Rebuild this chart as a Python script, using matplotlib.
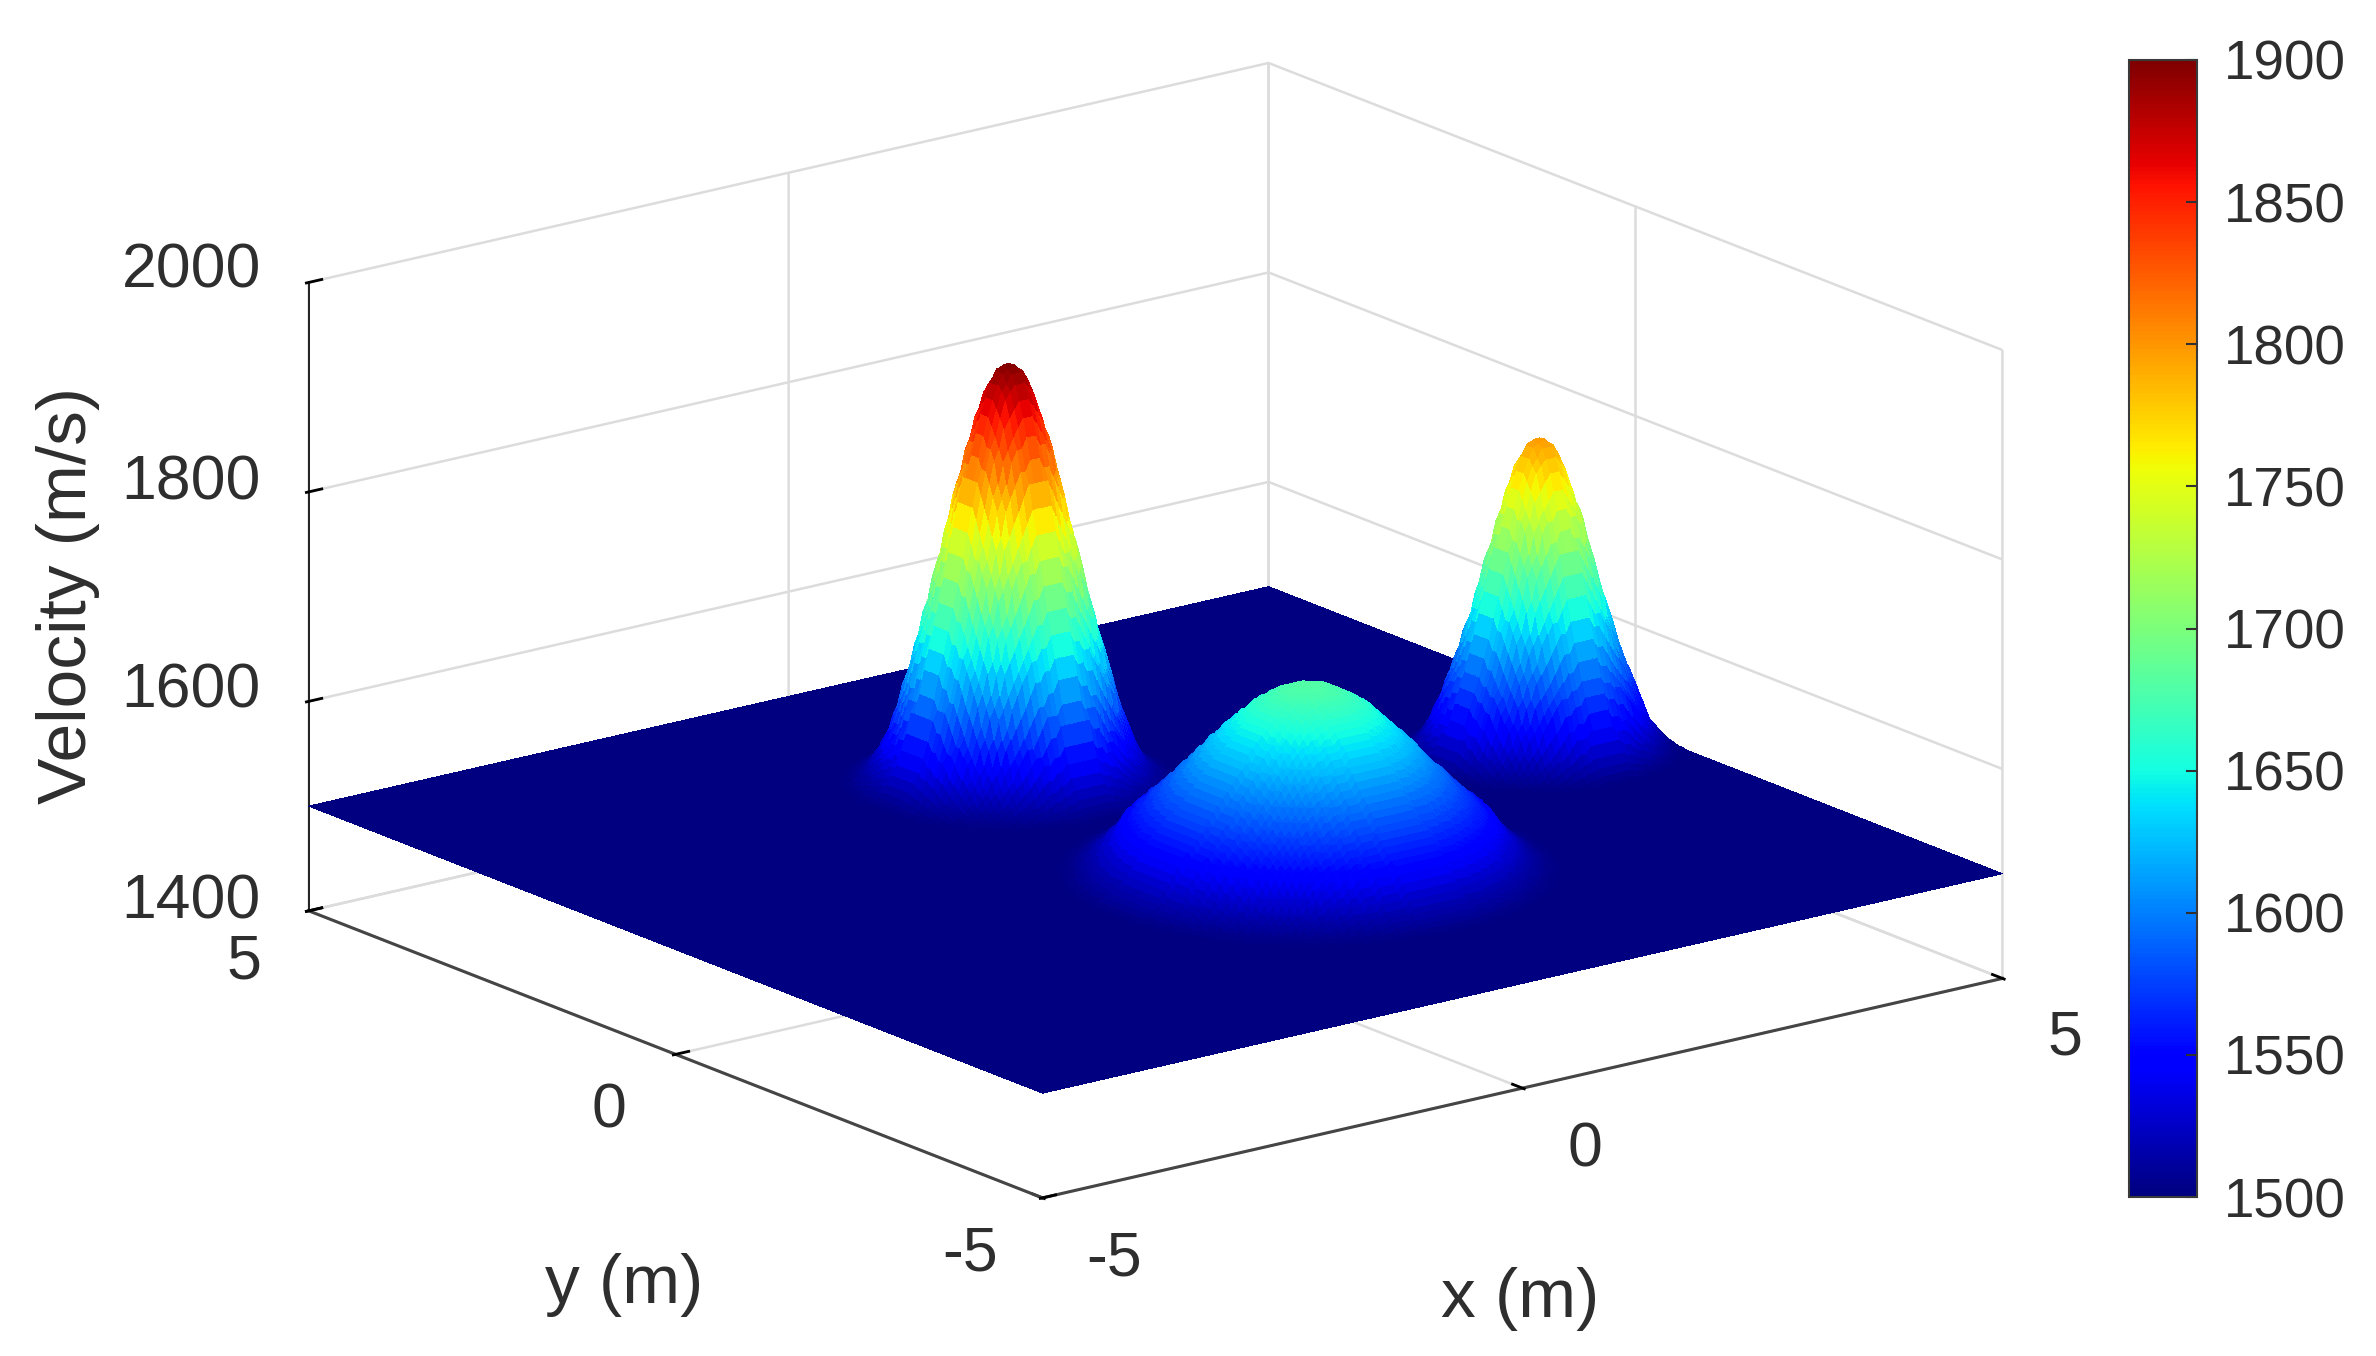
import numpy as np
import matplotlib
matplotlib.use('Agg')
import matplotlib.pyplot as plt
from matplotlib.cm import ScalarMappable
from matplotlib.colors import Normalize

plt.rcParams['font.family'] = ['Liberation Sans', 'DejaVu Sans']

# surface grid, m
step = 0.05
grid_x = np.arange(-100, 101) * step
grid_y = np.arange(-100, 101) * step
background_velocity = 1500

# velocity against distance from each summit
# hills a and b have one value every 0.025 m, hill c one every 0.05 m
hill_a_centre = (0.0, 2.0)
hill_a = [1900, 1899, 1898, 1896, 1893, 1889, 1884, 1878, 1871, 1864,
          1856, 1848, 1839, 1829, 1819, 1809, 1798, 1787, 1775, 1764,
          1752, 1741, 1729, 1718, 1706, 1695, 1683, 1672, 1662, 1651,
          1641, 1631, 1622, 1611, 1600, 1591, 1582, 1572, 1563, 1555,
          1548, 1541, 1535, 1530, 1525, 1521, 1517, 1514, 1511, 1509,
          1507, 1505, 1504, 1503, 1502, 1501, 1501]
hill_b_centre = (4.0, 0.0)
hill_b = [1800, 1799, 1798, 1796, 1793, 1789, 1784, 1778, 1772, 1765,
          1757, 1749, 1740, 1731, 1722, 1712, 1702, 1692, 1682, 1672,
          1662, 1652, 1642, 1632, 1623, 1614, 1606, 1597, 1589, 1582,
          1575, 1568, 1561, 1553, 1546, 1539, 1533, 1527, 1522, 1518,
          1514, 1511, 1508, 1506, 1504, 1503, 1502, 1501, 1501]
hill_c_centre = (0.45, -1.5)
hill_c = [1680, 1680, 1679, 1678, 1676, 1674, 1671, 1668, 1665, 1661,
          1657, 1652, 1647, 1642, 1637, 1632, 1626, 1621, 1615, 1609,
          1603, 1598, 1592, 1587, 1581, 1576, 1571, 1566, 1561, 1556,
          1552, 1545, 1538, 1531, 1525, 1519, 1515, 1511, 1508, 1505,
          1503, 1502, 1501, 1501]

x_ticks = [-5, 0, 5]
y_ticks = [-5, 0, 5]
z_ticks = [1400, 1600, 1800, 2000]
cbar_ticks = [1500, 1550, 1600, 1650, 1700, 1750, 1800, 1850, 1900]

W, H = 2376, 1356
TEXT = '#2e2e2e'
GRID = '#dcdcdc'
AXIS = '#454545'

# where the tick labels sit, pixels from the top left
x_label_pos = [(1114, 1259), (1585, 1150), (2065, 1038)]
y_label_pos = [(970, 1254), (609, 1111), (244, 962)]
z_label_pos = [(261, 902), (261, 691), (261, 483), (261, 271)]


def fig_text(px, py, s, **kw):
    fig.text(px / W, 1 - py / H, s, color=TEXT, **kw)


def add_hill(Z, X, Y, profile, centre, dr):
    # every grid point takes the profile value nearest to its distance from the summit
    values = np.array(profile, dtype=float)
    dist = np.hypot(X - centre[0], Y - centre[1])
    idx = np.round(dist / dr).astype(int)
    inside = idx < len(values)
    Z[inside] = np.maximum(Z[inside], values[idx[inside]])


X, Y = np.meshgrid(grid_x, grid_y)
Z = np.full(X.shape, float(background_velocity))
add_hill(Z, X, Y, hill_a, hill_a_centre, 0.025)
add_hill(Z, X, Y, hill_b, hill_b_centre, 0.025)
add_hill(Z, X, Y, hill_c, hill_c_centre, 0.05)

fig = plt.figure(figsize=(W / 100, H / 100), dpi=100)
ax = fig.add_axes([488 / W, 58 / H, 1300 / W, 1300 / H], projection='3d', proj_type='ortho')
ax.view_init(elev=17.4, azim=-127.4)
ax.set_box_aspect((1, 1, 0.545), zoom=1.3675)

norm = Normalize(1500, 1900)
cmap = plt.get_cmap('jet')
cell = (Z[:-1, :-1] + Z[1:, :-1] + Z[:-1, 1:] + Z[1:, 1:]) / 4
surf = ax.plot_surface(X, Y, Z, rstride=1, cstride=1, facecolors=cmap(norm(cell)),
                       shade=False, linewidth=0, antialiased=False)
surf.set_clip_on(False)

ax.set_xlim(-5, 5, view_margin=0)
ax.set_ylim(-5, 5, view_margin=0)
ax.set_zlim(1400, 2000, view_margin=0)
ax.set_xticks(x_ticks)
ax.set_yticks(y_ticks)
ax.set_zticks(z_ticks)
ax.set_xticklabels([])
ax.set_yticklabels([])
ax.set_zticklabels([])

for axis in [ax.xaxis, ax.yaxis, ax.zaxis]:
    axis.set_pane_color((1, 1, 1, 0))
    axis.pane.set_edgecolor(GRID)
    axis.line.set_color(AXIS)
    axis.line.set_linewidth(2.2)
    axis._axinfo['grid']['color'] = GRID
    axis._axinfo['grid']['linewidth'] = 1.8
    axis._axinfo['tick']['color'] = AXIS
    axis._axinfo['tick']['linewidth'] = {True: 2.0, False: 1.0}
    axis._axinfo['tick']['inward_factor'] = 0.03
    axis._axinfo['tick']['outward_factor'] = 0.17
ax.zaxis.line.set_color('#202020')
ax.zaxis.line.set_linewidth(1.4)

for val, (px, py) in zip(x_ticks, x_label_pos):
    fig_text(px, py, str(val), fontsize=45, ha='center', va='center')
for val, (px, py) in zip(y_ticks, y_label_pos):
    fig_text(px, py, str(val), fontsize=45, ha='center', va='center')
for val, (px, py) in zip(z_ticks, z_label_pos):
    fig_text(px, py, str(val), fontsize=45, ha='right', va='center')

fig_text(1520, 1299, 'x (m)', fontsize=50, ha='center', va='center')
fig_text(624, 1285, 'y (m)', fontsize=50, ha='center', va='center')
fig_text(68, 595, 'Velocity (m/s)', fontsize=50, ha='center', va='center', rotation=90)

cax = fig.add_axes([2129 / W, 1 - 1197 / H, 68 / W, 1137 / H])
cb = fig.colorbar(ScalarMappable(norm=norm, cmap=cmap), cax=cax, ticks=cbar_ticks)
cb.ax.tick_params(labelsize=39.5, labelcolor=TEXT, direction='in', length=8, width=1.5, pad=19, color='#303030')
cb.outline.set_linewidth(1.5)
cb.outline.set_edgecolor('#3a3a3a')

fig.savefig('out.png', dpi=100)
